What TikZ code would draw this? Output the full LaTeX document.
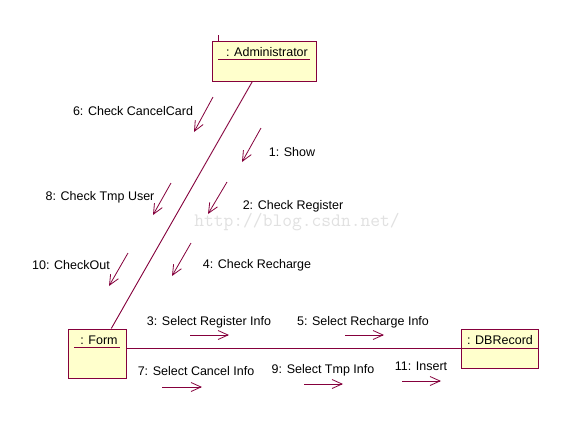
\documentclass[tikz,border=0pt]{standalone}
\usepackage{fontspec}
\setmainfont{Liberation Sans}
\usetikzlibrary{arrows.meta}
\definecolor{linkred}{RGB}{133,0,60}
\definecolor{boxfill}{RGB}{255,255,204}
\definecolor{markgray}{RGB}{225,225,225}

\begin{document}
\begin{tikzpicture}[x=1pt, y=-1pt, font=\fontsize{12.5}{14}\selectfont,
    obj/.style={draw=linkred, fill=boxfill, line width=1pt, inner sep=0pt},
    link/.style={draw=linkred, line width=0.9pt},
    msg/.style={draw=linkred, line width=0.8pt, -{Straight Barb[length=10pt, width=9pt]}}]
    \fill[white] (0,0) rectangle (576,426);
    \useasboundingbox (0,0) rectangle (576,426);

    % Watermark
    \node[text=markgray, font=\fontsize{19}{20}\ttfamily] (mark) at (297,222) {http://blog.csdn.net/};

    % Objects
    \draw[link] (218,35) -- (218,41);
    \node[obj, minimum width=104pt, minimum height=40pt] (admin) at (264,61) {};
    \node (admintext) at (267,52) {: Administrator};
    \draw[link] (218,59) -- (310,59);
    \node[obj, minimum width=58pt, minimum height=49pt] (form) at (97,353.5) {};
    \node (formtext) at (99,340.5) {: Form};
    \draw[link] (74,347) -- (120,347);
    \node[obj, minimum width=77pt, minimum height=39pt] (dbrecord) at (499.5,348.5) {};
    \node (dbtext) at (500,340.5) {: DBRecord};
    \draw[link] (dbrecord.west) -- (dbrecord.east);

    % Links
    \draw[link] (admin) -- (form);
    \draw[link] (form.east |- dbrecord.west) -- (dbrecord.west);

    % Messages from Administrator
    \draw[msg] (261,128) -- (242,162);
    \node (show) at (292,152) {1: Show};
    \draw[msg] (227,182) -- (208,214);
    \node (register) at (293,206) {2: Check Register};
    \draw[msg] (191,243) -- (172,276);
    \node (recharge) at (257,265) {4: Check Recharge};
    \draw[msg] (213,97) -- (194,132);
    \node (cancel) at (133,111) {6: Check CancelCard};
    \draw[msg] (171,183) -- (153,215);
    \node (tmpuser) at (100,197) {8: Check Tmp User};
    \draw[msg] (128,253) -- (109,286);
    \node (checkout) at (71,265) {10: CheckOut};

    % Messages to DBRecord
    \draw[msg] (190,335) -- (229,335);
    \node (selreg) at (209,322) {3: Select Register Info};
    \draw[msg] (345,335) -- (384,335);
    \node (selrech) at (363,322) {5: Select Recharge Info};
    \draw[msg] (162,387) -- (202,387);
    \node (selcancel) at (196,371) {7: Select Cancel Info};
    \draw[msg] (304,384) -- (343,384);
    \node (seltmp) at (323,370) {9: Select Tmp Info};
    \draw[msg] (402,381) -- (441,381);
    \node (insert) at (421,366) {11: Insert};
\end{tikzpicture}
\end{document}
